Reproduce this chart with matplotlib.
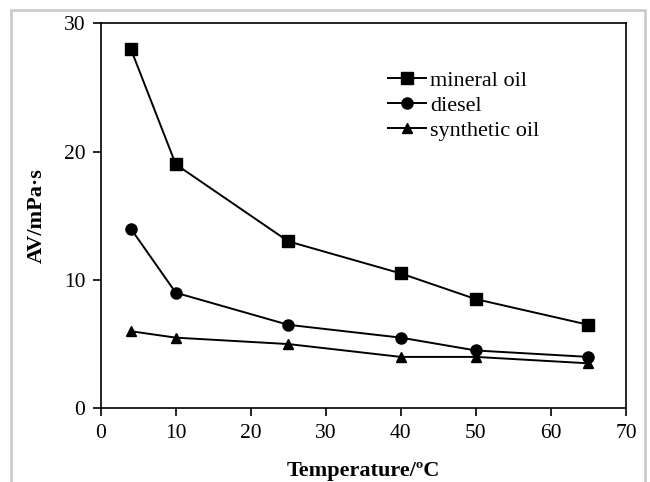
import matplotlib
matplotlib.use("Agg")
import matplotlib.pyplot as plt
from matplotlib.patches import Rectangle

temperature = [4, 10, 25, 40, 50, 65]
mineral_oil = [28, 19, 13, 10.5, 8.5, 6.5]
diesel = [14, 9, 6.5, 5.5, 4.5, 4]
synthetic_oil = [6, 5.5, 5, 4, 4, 3.5]

plt.rcParams["font.family"] = ["Liberation Serif", "DejaVu Serif"]

fig = plt.figure(figsize=(6.5, 4.82), dpi=100)
ax = fig.add_axes([0.155, 0.153, 0.808, 0.799])

# light grey frame around the picture
fig.patches.append(Rectangle((11 / 650, -0.1), 634 / 650, 1.1 - 10 / 482,
                             transform=fig.transFigure, fill=False,
                             edgecolor="#cccccc", linewidth=2))

ax.plot(temperature, mineral_oil, "-s", color="black", lw=1.4, ms=8, label="mineral oil")
ax.plot(temperature, diesel, "-o", color="black", lw=1.4, ms=8, label="diesel")
ax.plot(temperature, synthetic_oil, "-^", color="black", lw=1.4, ms=7.5, label="synthetic oil")

ax.set_xlim(0, 70)
ax.set_ylim(0, 30)
ax.set_xticks(range(0, 71, 10))
ax.set_yticks(range(0, 31, 10))
ax.tick_params(direction="out", length=6, width=1.2, labelsize=15.5, colors="black", pad=5)
for s in ax.spines.values():
    s.set_linewidth(1.2)

ax.set_xlabel("Temperature/ºC", fontsize=16, fontweight="bold", labelpad=13)
ax.set_ylabel("AV/mPa·s", fontsize=16, fontweight="bold", labelpad=12)

ax.legend(loc="upper left", bbox_to_anchor=(0.53, 0.9), frameon=False,
          fontsize=16, handlelength=1.7, handletextpad=0.2, labelspacing=0.2,
          borderaxespad=0)

fig.savefig("out.png", dpi=100)
